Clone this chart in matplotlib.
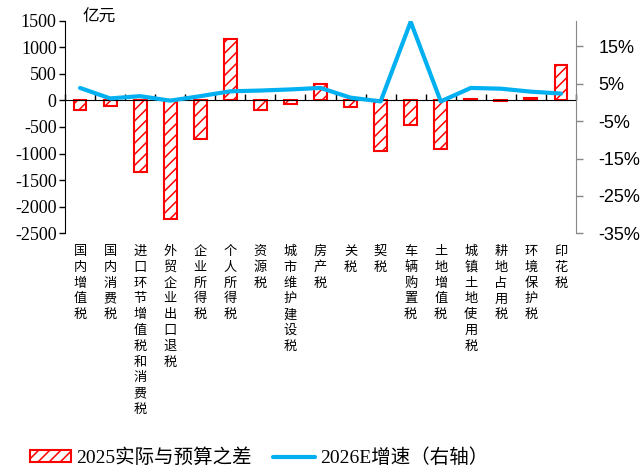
import numpy as np
import matplotlib
matplotlib.use('Agg')
import matplotlib.pyplot as plt
from matplotlib.ticker import FuncFormatter
from matplotlib.transforms import blended_transform_factory

plt.rcParams['axes.unicode_minus'] = False
plt.rcParams['hatch.linewidth'] = 1.1

# categories
taxes = ['国内增值税', '国内消费税', '进口环节增值税和消费税', '外贸企业出口退税',
         '企业所得税', '个人所得税', '资源税', '城市维护建设税', '房产税', '关税',
         '契税', '车辆购置税', '土地增值税', '城镇土地使用税', '耕地占用税',
         '环境保护税', '印花税']
# 2025 actual minus budget, 亿元
diff_2025 = [-180, -100, -1350, -2240, -730, 1160, -180, -75, 310, -120,
             -960, -460, -915, 20, -12, 40, 670]
# 2026E growth, %
growth_2026 = [3.9, 1.1, 1.7, 0.5, 1.7, 3.0, 3.2, 3.5, 3.9, 1.3,
               0.3, 21.6, 0.3, 3.9, 3.7, 2.9, 2.4]

left_ticks = [1500, 1000, 500, 0, -500, -1000, -1500, -2000, -2500]
right_ticks = [15, 5, -5, -15, -25, -35]

serif = ['Liberation Serif', 'Noto Sans CJK SC']
cjk = ['Noto Sans CJK SC', 'DejaVu Sans']
red = '#FF0000'
blue = '#00B0F0'
grey = '#888888'

fig = plt.figure(figsize=(6.41, 4.72), dpi=100)
ax = fig.add_axes([0.1014, 0.5057, 0.7972, 0.4505])
x = np.arange(len(taxes))

bars = ax.bar(x, diff_2025, width=0.43, facecolor='white', edgecolor=red,
              hatch='///', linewidth=1.5, label='2025实际与预算之差', zorder=2)

ax.set_xlim(-0.5, len(taxes) - 0.5)
ax.set_ylim(-2500, 1500)
ax.set_yticks(left_ticks)
ax.set_yticklabels([str(v) for v in left_ticks], family=serif, fontsize=13)
ax.tick_params(axis='y', direction='out', length=4, width=1, pad=2)

ax.spines['top'].set_visible(False)
ax.spines['right'].set_visible(False)
ax.spines['bottom'].set_position(('data', 0))
ax.spines['bottom'].set_zorder(3)
ax.set_xticks(np.arange(-0.5, len(taxes), 1))
ax.set_xticklabels([])
ax.tick_params(axis='x', direction='in', length=4, width=1)

# vertical category labels below the plot
trans = blended_transform_factory(ax.transData, ax.transAxes)
for i, name in enumerate(taxes):
    ax.text(i, -0.055, '\n'.join(name), transform=trans, ha='center', va='top',
            family=cjk, fontsize=9.5, linespacing=1.28)

ax.text(0.035, 1.015, '亿元', transform=ax.transAxes, ha='left', va='center',
        family=cjk, fontsize=12)

ax2 = ax.twinx()
line, = ax2.plot(x, growth_2026, color=blue, lw=3, solid_capstyle='round',
                 label='2026E增速（右轴）', zorder=4)
ax2.set_ylim(-35, 21.9)
ax2.set_yticks(right_ticks)
ax2.yaxis.set_major_formatter(FuncFormatter(lambda v, p: '%d%%' % v))
for lab in ax2.get_yticklabels():
    lab.set_family(['Liberation Sans', 'DejaVu Sans'])
    lab.set_fontsize(13)
ax2.tick_params(axis='y', direction='out', length=5, width=1, color=grey, pad=11)
for s in ['top', 'left', 'bottom']:
    ax2.spines[s].set_visible(False)
ax2.spines['right'].set_color(grey)

fig.legend(handles=[bars, line], loc='center', bbox_to_anchor=(0.404, 0.03),
           ncol=2, frameon=False, prop={'family': serif, 'size': 14},
           handlelength=2.15, handleheight=0.6, handletextpad=0.25,
           columnspacing=1.1)

fig.savefig('out.png', dpi=100)
